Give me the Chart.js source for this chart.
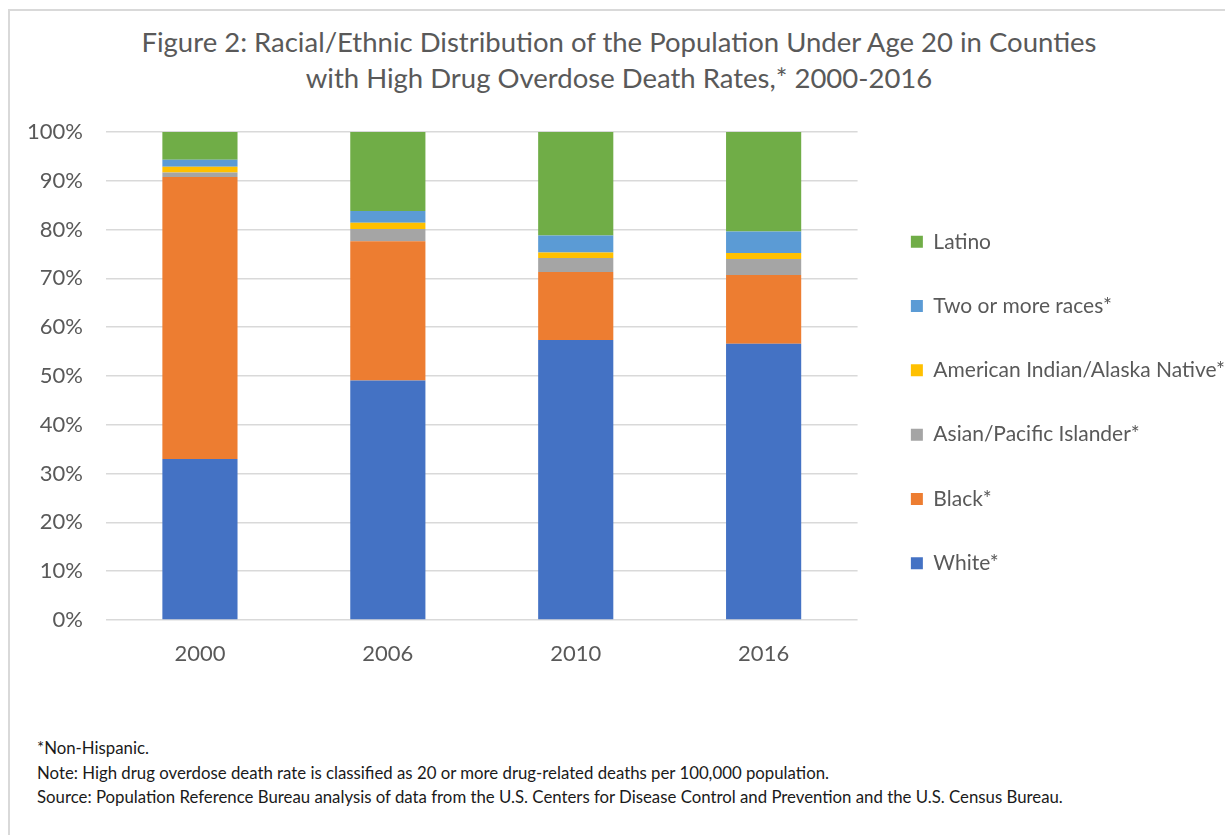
<!DOCTYPE html>
<html>
<head>
<meta charset="utf-8">
<script src="https://cdn.jsdelivr.net/npm/chart.js@4"></script>
<style>
  html, body { margin: 0; padding: 0; background: #fff; overflow: hidden; }
  #frame {
    position: absolute; left: 8px; top: 9px; width: 1300px; height: 900px;
    border-left: 2px solid #d9d9d9; border-top: 2px solid #d9d9d9;
  }
  #title {
    position: absolute; left: 12px; top: 24px; width: 1214px;
    font-family: Lato, sans-serif; font-size: 27.5px; line-height: 36px;
    color: #595959; text-align: center;
  }
  #chartBox { position: absolute; left: 0; top: 0; width: 1225px; height: 673px; }
  #notes {
    position: absolute; left: 37px; top: 736px;
    font-family: Lato, sans-serif; font-size: 16.8px; line-height: 24.5px; color: #1a1a1a;
  }
</style>
</head>
<body>
<div id="frame"></div>
<div id="title">Figure 2: Racial/Ethnic Distribution of the Population Under Age 20 in Counties<br>with High Drug Overdose Death Rates,* 2000-2016</div>
<div id="chartBox"><canvas id="distChart"></canvas></div>
<div id="notes">
  *Non-Hispanic.<br>
  Note: High drug overdose death rate is classified as 20 or more drug-related deaths per 100,000 population.<br>
  Source: Population Reference Bureau analysis of data from the U.S. Centers for Disease Control and Prevention and the U.S. Census Bureau.
</div>
<script>
// Share of population under 20, percent, by year
const years = ['2000', '2006', '2010', '2016'];
const white = [33.0, 49.1, 57.4, 56.6];
const black = [57.8, 28.5, 13.9, 14.1];
const asianPacific = [0.9, 2.5, 2.9, 3.3];
const amIndianAlaska = [1.2, 1.3, 1.1, 1.2];
const twoOrMore = [1.4, 2.4, 3.5, 4.4];
const latino = [5.7, 16.2, 21.2, 20.4];

const textColor = '#595959';
const font = 'Lato, sans-serif';

// Push legend entries a little right of the plot edge
const legendShift = {
  id: 'legendShift',
  afterLayout(chart) {
    chart.legend.left += 10;
  }
};

function makeSeries(label, data, color) {
  return { label, data, backgroundColor: color, borderWidth: 0 };
}

function initChart() {
  const canvas = document.getElementById('distChart');
  new Chart(canvas, {
    type: 'bar',
    data: {
      labels: years,
      datasets: [
        makeSeries('White*', white, '#4472C4'),
        makeSeries('Black*', black, '#ED7D31'),
        makeSeries('Asian/Pacific Islander*', asianPacific, '#A5A5A5'),
        makeSeries('American Indian/Alaska Native*', amIndianAlaska, '#FFC000'),
        makeSeries('Two or more races*', twoOrMore, '#5B9BD5'),
        makeSeries('Latino', latino, '#70AD47')
      ]
    },
    options: {
      responsive: true,
      maintainAspectRatio: false,
      animation: false,
      categoryPercentage: 1,
      barPercentage: 0.4,
      layout: { padding: { top: 132, left: 0, right: 0, bottom: 0 } },
      plugins: {
        title: { display: false },
        tooltip: { enabled: false },
        legend: {
          position: 'right',
          reverse: true,
          maxWidth: 420,
          labels: {
            boxWidth: 12,
            boxHeight: 12,
            padding: 43.3,
            color: textColor,
            font: { family: font, size: 21 }
          }
        }
      },
      scales: {
        x: {
          stacked: true,
          grid: { display: false },
          border: { display: false },
          ticks: { color: textColor, padding: 13, font: { family: font, size: 22 } },
          afterFit(scale) { scale.height = 53; }
        },
        y: {
          stacked: true,
          min: 0,
          max: 100,
          grid: { color: '#d9d9d9', lineWidth: 1.5, drawTicks: false },
          border: { display: false },
          ticks: {
            stepSize: 10,
            padding: 23,
            color: textColor,
            font: { family: font, size: 22 },
            callback: value => value + '%'
          },
          afterFit(scale) { scale.width = 106; }
        }
      }
    },
    plugins: [legendShift]
  });
}

initChart();
</script>
</body>
</html>
